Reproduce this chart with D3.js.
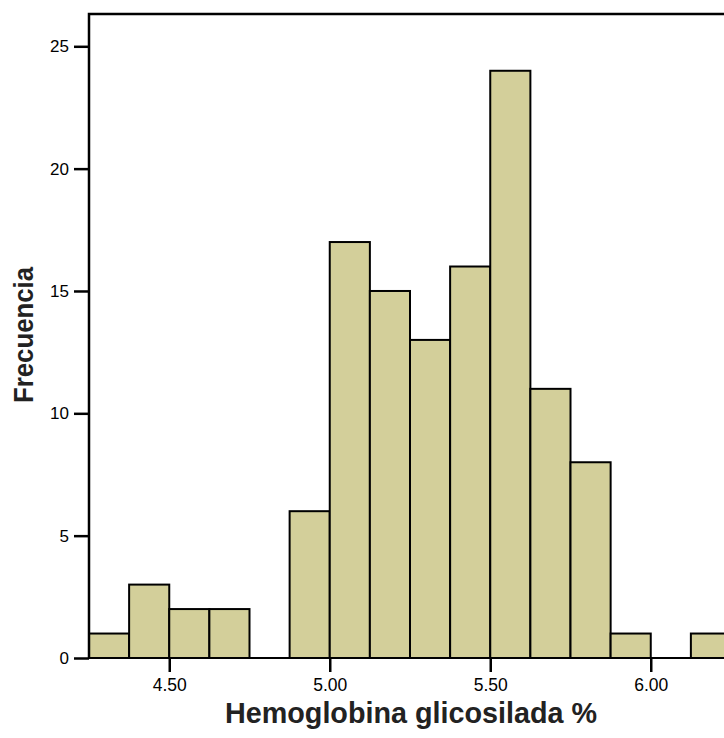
<!DOCTYPE html>
<html>
<head>
<meta charset="utf-8">
<script src="https://cdn.jsdelivr.net/npm/d3@7"></script>
<style>
  body { margin: 0; background: #fff; }
  svg { display: block; font-family: "Liberation Sans", Arial, sans-serif; }
</style>
</head>
<body>
<div id="container"></div>
<script>
// bins of 0.125 (start values) and their counts
const binStarts = [4.25, 4.375, 4.5, 4.625, 4.75, 4.875, 5.0, 5.125, 5.25, 5.375, 5.5, 5.625, 5.75, 5.875, 6.0, 6.125]
const counts = [1, 3, 2, 2, 0, 6, 17, 15, 13, 16, 24, 11, 8, 1, 0, 1]
const binWidth = 0.125
const xTicks = [4.5, 5.0, 5.5, 6.0]
const yTicks = [0, 5, 10, 15, 20, 25]

const w = 724
const h = 738
const padLeft = 89, padTop = 14, baseY = 658

const svg = d3.select("#container")
  .append("svg")
  .attr("width", w)
  .attr("height", h)

const x = d3.scaleLinear().domain([4.25, 6.4]).range([padLeft, padLeft + 2.15 * 321])
const y = d3.scaleLinear().domain([0, 26.32]).range([baseY, padTop])

const bins = binStarts.map((s, i) => ({ x0: s, x1: s + binWidth, n: counts[i] }))

// bars
svg.selectAll("rect.bar")
  .data(bins.filter(d => d.n > 0))
  .enter()
  .append("rect")
  .attr("class", "bar")
  .attr("x", d => x(d.x0))
  .attr("y", d => y(d.n))
  .attr("width", d => x(d.x1) - x(d.x0))
  .attr("height", d => y(0) - y(d.n))
  .attr("fill", "#d3cf9a")
  .attr("stroke", "#000")
  .attr("stroke-width", 2)

// frame (left, top) and baseline
svg.append("path")
  .attr("d", `M${padLeft},${baseY}V${padTop}H${w + 10}`)
  .attr("fill", "none")
  .attr("stroke", "#000")
  .attr("stroke-width", 2.5)

svg.append("line")
  .attr("x1", padLeft).attr("x2", w + 10)
  .attr("y1", baseY).attr("y2", baseY)
  .attr("stroke", "#000")
  .attr("stroke-width", 2)

// y axis
const yAxis = svg.append("g")
  .attr("transform", `translate(${padLeft},0)`)
  .call(d3.axisLeft(y).tickValues(yTicks).tickSize(15).tickPadding(5).tickFormat(d3.format("d")))
yAxis.select(".domain").remove()
yAxis.selectAll("line").attr("stroke-width", 2.5)
yAxis.selectAll("text").attr("font-size", 17).attr("fill", "#000")

// x axis
const xAxis = svg.append("g")
  .attr("transform", `translate(0,${baseY})`)
  .call(d3.axisBottom(x).tickValues(xTicks).tickSize(14).tickPadding(7).tickFormat(d3.format(".2f")))
xAxis.select(".domain").remove()
xAxis.selectAll("line").attr("stroke-width", 2.5)
xAxis.selectAll("text").attr("font-size", 17.5).attr("fill", "#000")

// axis titles
svg.append("text")
  .attr("x", 411)
  .attr("y", 723)
  .attr("text-anchor", "middle")
  .attr("font-size", 30)
  .attr("font-weight", "bold")
  .attr("fill", "#222")
  .attr("textLength", 372)
  .attr("lengthAdjust", "spacingAndGlyphs")
  .text("Hemoglobina glicosilada %")

svg.append("text")
  .attr("transform", "translate(33,335) rotate(-90)")
  .attr("text-anchor", "middle")
  .attr("font-size", 28)
  .attr("font-weight", "bold")
  .attr("fill", "#222")
  .attr("textLength", 136)
  .attr("lengthAdjust", "spacingAndGlyphs")
  .text("Frecuencia")
</script>
</body>
</html>
